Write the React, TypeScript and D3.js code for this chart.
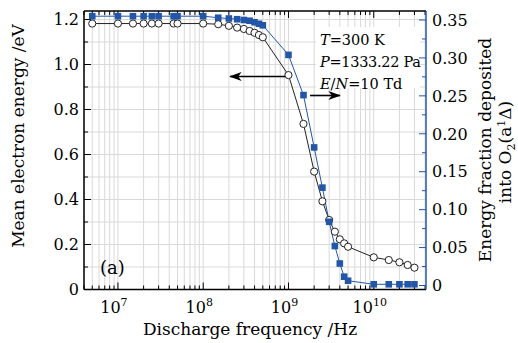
import React from "react";
import * as d3 from "d3";

const freq = [5e6, 1e7, 1.5e7, 2e7, 2.5e7, 3e7, 4.5e7, 5e7, 1e8, 1.5e8, 2e8, 2.5e8, 3e8, 3.5e8, 4e8, 4.5e8, 5e8, 1e9, 1.5e9, 2e9, 2.5e9, 3e9, 3.5e9, 4e9, 4.5e9, 5e9, 1e10, 1.5e10, 2e10, 2.5e10, 3e10];
const energy = [1.182, 1.182, 1.182, 1.182, 1.182, 1.182, 1.182, 1.182, 1.182, 1.179, 1.172, 1.164, 1.158, 1.149, 1.141, 1.131, 1.121, 0.953, 0.736, 0.524, 0.392, 0.309, 0.257, 0.223, 0.205, 0.19, 0.143, 0.131, 0.121, 0.109, 0.097];
const fraction = [0.355, 0.355, 0.355, 0.355, 0.355, 0.355, 0.355, 0.355, 0.355, 0.353, 0.352, 0.351, 0.35, 0.349, 0.347, 0.345, 0.343, 0.304, 0.251, 0.182, 0.129, 0.084, 0.052, 0.029, 0.0116, 0.0063, 0.0016, 0.0016, 0.0016, 0.0016, 0.0016];
const leftTicks = [0, 0.2, 0.4, 0.6, 0.8, 1.0, 1.2];
const leftTickLabels = ["0", "0.2", "0.4", "0.6", "0.8", "1.0", "1.2"];
const rightTicks = [0, 0.05, 0.1, 0.15, 0.2, 0.25, 0.3, 0.35];
const rightTickLabels = ["0", "0.05", "0.10", "0.15", "0.20", "0.25", "0.30", "0.35"];
const xMajorExps = [7, 8, 9, 10];

const FONT = "DejaVu Serif";
const BLUE = "#2456a8";

export default function App() {
  const L = 84, R = 426, T = 11, B = 289.5;
  const x = d3.scaleLog().domain([4e6, 4.1e10]).range([L, R]);
  const yL = d3.scaleLinear().domain([0, (B - T) / 225]).range([B, T]);
  const yR = d3.scaleLinear().domain([-(B - 285.5) / 758.6, (285.5 - T) / 758.6]).range([B, T]);

  const allLogTicks: number[] = [];
  for (let e = 6; e <= 10; e++) for (let m = 1; m <= 9; m++) {
    const v = m * Math.pow(10, e);
    if (v >= 4e6 && v <= 4.1e10) allLogTicks.push(v);
  }
  const hGrid = d3.range(0, 13).map((i) => i / 10);
  const leftMinor = d3.range(0, 13).map((i) => i / 10);
  const rightMinor = d3.range(0, 15).map((i) => i * 0.025);

  const lineE = d3.line<number>().x((_, i) => x(freq[i])).y((d) => yL(d));
  const lineF = d3.line<number>().x((_, i) => x(freq[i])).y((d) => yR(d));

  return (
    <svg width={518} height={343} style={{ position: "absolute", left: 0, top: 0, background: "#fff" }} fontFamily={FONT}>
      <defs>
        <marker id="ah" viewBox="0 0 14 10" refX="13" refY="5" markerWidth="14" markerHeight="9" orient="auto" markerUnits="userSpaceOnUse">
          <path d="M0,0 L14,5 L0,10 L4,5 Z" fill="#000" />
        </marker>
      </defs>
      <rect x={0} y={0} width={518} height={343} fill="#fff" />
      {allLogTicks.map((v, i) => (
        <line key={"vg" + i} x1={x(v)} x2={x(v)} y1={T} y2={B} stroke="#d9d9d9" strokeWidth={1} />
      ))}
      {hGrid.map((v, i) => (
        <line key={"hg" + i} x1={L} x2={R} y1={yL(v)} y2={yL(v)} stroke="#d9d9d9" strokeWidth={1} />
      ))}
      <rect x={316} y={27} width={104} height={61} fill="#fff" />
      <text x={320} y={45} fontSize={14.5} fill="#000">
        <tspan fontStyle="italic">T</tspan>=300 K
      </text>
      <text x={320} y={67} fontSize={14.5} fill="#000" letterSpacing={-0.3}>
        <tspan fontStyle="italic">P</tspan>=1333.22 Pa
      </text>
      <text x={320} y={89} fontSize={14.5} fill="#000">
        <tspan fontStyle="italic">E</tspan>/<tspan fontStyle="italic">N</tspan>=10 Td
      </text>
      <line x1={287} y1={76.5} x2={230} y2={76.5} stroke="#000" strokeWidth={1.6} markerEnd="url(#ah)" />
      <line x1={310} y1={95.5} x2={340} y2={95.5} stroke="#000" strokeWidth={1.6} markerEnd="url(#ah)" />
      {allLogTicks.map((v, i) => {
        const major = Math.abs(Math.log10(v) - Math.round(Math.log10(v))) < 1e-9;
        const len = major ? 7 : 4;
        return (
          <g key={"xt" + i}>
            <line x1={x(v)} x2={x(v)} y1={B} y2={B - len} stroke="#000" strokeWidth={1} />
            <line x1={x(v)} x2={x(v)} y1={T} y2={T + len} stroke="#000" strokeWidth={1} />
          </g>
        );
      })}
      {leftMinor.map((v, i) => (
        <line key={"lt" + i} x1={L} x2={L + (i % 2 === 0 ? 7 : 4)} y1={yL(v)} y2={yL(v)} stroke="#000" strokeWidth={1} />
      ))}
      {rightMinor.map((v, i) => (
        <line key={"rt" + i} x1={R} x2={R - (i % 2 === 0 ? 7 : 4)} y1={yR(v)} y2={yR(v)} stroke={BLUE} strokeWidth={1} />
      ))}
      <line x1={L} x2={R} y1={T} y2={T} stroke="#000" strokeWidth={1.5} />
      <line x1={L} x2={R} y1={B} y2={B} stroke="#000" strokeWidth={1.5} />
      <line x1={L} x2={L} y1={T} y2={B} stroke="#000" strokeWidth={1.5} />
      <line x1={R} x2={R} y1={T} y2={B} stroke={BLUE} strokeWidth={1.5} />
      <path d={lineE(energy) || ""} fill="none" stroke="#222" strokeWidth={1} />
      <path d={lineF(fraction) || ""} fill="none" stroke={BLUE} strokeWidth={1} />
      {energy.map((v, i) => (
        <circle key={"c" + i} cx={x(freq[i])} cy={yL(v)} r={3.6} fill="#fff" stroke="#222" strokeWidth={1} />
      ))}
      {fraction.map((v, i) => (
        <rect key={"s" + i} x={x(freq[i]) - 3.3} y={yR(v) - 3.3} width={6.6} height={6.6} fill={BLUE} />
      ))}
      {leftTicks.map((v, i) => (
        <text key={"ll" + i} x={L - 5} y={yL(v)} dy="0.36em" textAnchor="end" fontSize={16} fill="#000">{leftTickLabels[i]}</text>
      ))}
      {rightTicks.map((v, i) => (
        <text key={"rl" + i} x={R + 6} y={yR(v)} dy="0.36em" textAnchor="start" fontSize={16} fill="#000">{rightTickLabels[i]}</text>
      ))}
      {xMajorExps.map((e) => (
        <text key={"xl" + e} x={x(Math.pow(10, e)) - 4} y={313} textAnchor="middle" fontSize={16} fill="#000">
          10<tspan fontSize={11} dy={-7}>{e}</tspan>
        </text>
      ))}
      <text x={250} y={335} textAnchor="middle" fontSize={17} fill="#000">Discharge frequency /Hz</text>
      <text transform={`translate(24,136) rotate(-90)`} textAnchor="middle" fontSize={17} fill="#000">Mean electron energy /eV</text>
      <text transform={`translate(491,150) rotate(-90)`} textAnchor="middle" fontSize={17} fill="#000">Energy fraction deposited</text>
      <text transform={`translate(511,152) rotate(-90)`} textAnchor="middle" fontSize={17} fill="#000">
        into O<tspan fontSize={11} dy={4}>2</tspan><tspan dy={-4}>(a</tspan><tspan fontSize={11} dy={-6}>1</tspan><tspan dy={6}>Δ)</tspan>
      </text>
      <text x={100} y={274} fontSize={18} fill="#000">(a)</text>
    </svg>
  );
}
